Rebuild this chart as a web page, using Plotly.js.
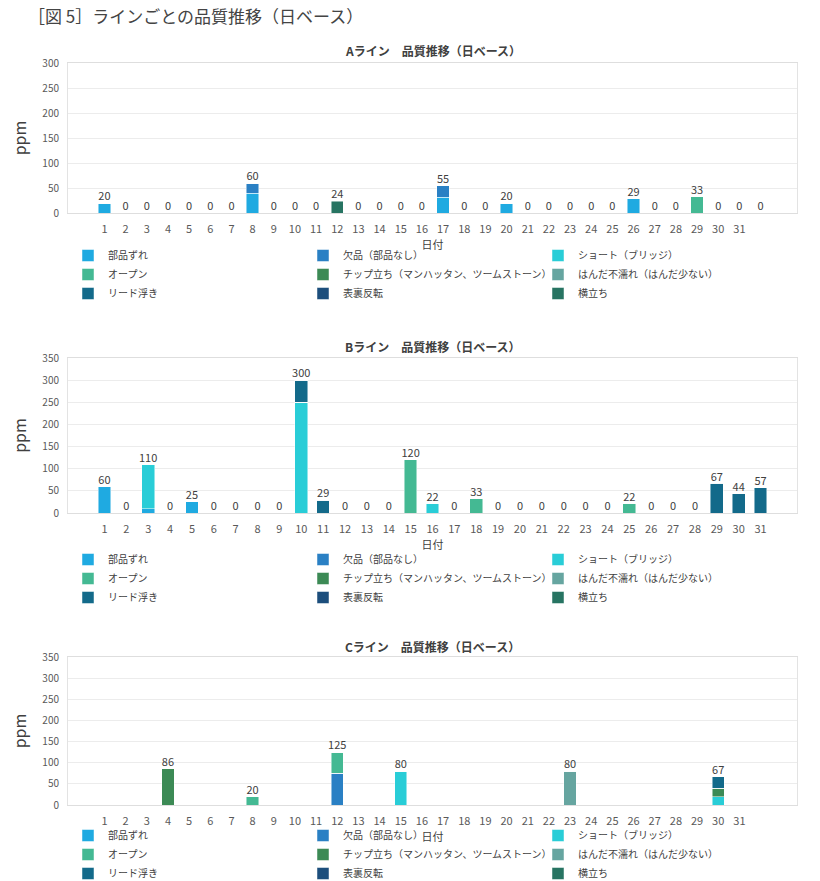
<!DOCTYPE html>
<html>
<head>
<meta charset="utf-8">
<script src="https://cdn.plot.ly/plotly-3.0.1.min.js"></script>
<style>
  html, body { margin: 0; padding: 0; background: #fff; }
  #chart { width: 820px; height: 881px; }
</style>
</head>
<body>
<div id="chart"></div>
<script>
// defect categories, in stacking / legend order
const categories = [
  "部品ずれ",
  "欠品（部品なし）",
  "ショート（ブリッジ）",
  "オープン",
  "チップ立ち（マンハッタン、ツームストーン）",
  "はんだ不濡れ（はんだ少ない）",
  "リード浮き",
  "表裏反転",
  "横立ち",
];
const colors = ["#1faae1", "#2a80c4", "#29cdd7", "#44b993", "#3c8a55", "#66a5a0", "#136a8a", "#1c4e7c", "#277462"];

// A and C have an empty 32nd slot on the axis, B has 31 days
const daysAC = ["1","2","3","4","5","6","7","8","9","10","11","12","13","14","15","16","17","18","19","20","21","22","23","24","25","26","27","28","29","30","31"," "];
const daysB = ["1","2","3","4","5","6","7","8","9","10","11","12","13","14","15","16","17","18","19","20","21","22","23","24","25","26","27","28","29","30","31"];

const zeros32 = [0,0,0,0,0,0,0,0,0,0, 0,0,0,0,0,0,0,0,0,0, 0,0,0,0,0,0,0,0,0,0, 0,0];
const zeros31 = [0,0,0,0,0,0,0,0,0,0, 0,0,0,0,0,0,0,0,0,0, 0,0,0,0,0,0,0,0,0,0, 0];

// A line (ppm)
const aZure  = [20,0,0,0,0,0,0,40,0,0, 0,0,0,0,0,0,32,0,0,20, 0,0,0,0,0,29,0,0,0,0, 0,0];
const aKepin = [0,0,0,0,0,0,0,20,0,0, 0,0,0,0,0,0,23,0,0,0, 0,0,0,0,0,0,0,0,0,0, 0,0];
const aOpen  = [0,0,0,0,0,0,0,0,0,0, 0,0,0,0,0,0,0,0,0,0, 0,0,0,0,0,0,0,0,33,0, 0,0];
const aYoko  = [0,0,0,0,0,0,0,0,0,0, 0,24,0,0,0,0,0,0,0,0, 0,0,0,0,0,0,0,0,0,0, 0,0];

// B line (ppm)
const bZure  = [60,0,10,0,25,0,0,0,0,0, 0,0,0,0,0,0,0,0,0,0, 0,0,0,0,0,0,0,0,0,0, 0];
const bShort = [0,0,100,0,0,0,0,0,0,250, 0,0,0,0,0,22,0,0,0,0, 0,0,0,0,0,0,0,0,0,0, 0];
const bOpen  = [0,0,0,0,0,0,0,0,0,0, 0,0,0,0,120,0,0,33,0,0, 0,0,0,0,22,0,0,0,0,0, 0];
const bLead  = [0,0,0,0,0,0,0,0,0,50, 29,0,0,0,0,0,0,0,0,0, 0,0,0,0,0,0,0,0,67,44, 57];

// C line (ppm)
const cKepin = [0,0,0,0,0,0,0,0,0,0, 0,75,0,0,0,0,0,0,0,0, 0,0,0,0,0,0,0,0,0,0, 0,0];
const cShort = [0,0,0,0,0,0,0,0,0,0, 0,0,0,0,80,0,0,0,0,0, 0,0,0,0,0,0,0,0,0,20, 0,0];
const cOpen  = [0,0,0,0,0,0,0,20,0,0, 0,50,0,0,0,0,0,0,0,0, 0,0,0,0,0,0,0,0,0,0, 0,0];
const cChip  = [0,0,0,86,0,0,0,0,0,0, 0,0,0,0,0,0,0,0,0,0, 0,0,0,0,0,0,0,0,0,20, 0,0];
const cNure  = [0,0,0,0,0,0,0,0,0,0, 0,0,0,0,0,0,0,0,0,0, 0,0,80,0,0,0,0,0,0,0, 0,0];
const cLead  = [0,0,0,0,0,0,0,0,0,0, 0,0,0,0,0,0,0,0,0,0, 0,0,0,0,0,0,0,0,0,27, 0,0];

const FONT = '"Noto Sans CJK JP", "Noto Sans", sans-serif';
const H = 881;
const py = (px) => 1 - px / H; // pixel row -> paper y (no top/bottom margin)

const panels = [
  { title: "Aライン　品質推移（日ベース）", days: daysAC, ymax: 300, showZero: true,
    series: [aZure, aKepin, zeros32, aOpen, zeros32, zeros32, zeros32, zeros32, aYoko],
    titleY: 51, top: 63, bottom: 213, legendTop: 241 },
  { title: "Bライン　品質推移（日ベース）", days: daysB, ymax: 350, showZero: true,
    series: [bZure, zeros31, bShort, bOpen, zeros31, zeros31, bLead, zeros31, zeros31],
    titleY: 346, top: 358, bottom: 513, legendTop: 545 },
  { title: "Cライン　品質推移（日ベース）", days: daysAC, ymax: 350, showZero: false,
    series: [zeros32, cKepin, cShort, cOpen, cChip, cNure, cLead, zeros32, zeros32],
    titleY: 646, top: 657, bottom: 805, legendTop: 821 },
];

const traces = [];
const annotations = [];
const layout = {
  width: 820,
  height: 881,
  margin: { l: 68, r: 23, t: 0, b: 0, autoexpand: false },
  paper_bgcolor: "#fff",
  plot_bgcolor: "#fff",
  font: { family: FONT, color: "#404040" },
  barmode: "stack",
  bargap: 0.42,
  showlegend: true,
  title: {
    text: "［図 5］ラインごとの品質推移（日ベース）",
    x: 28 / 820, xref: "container", xanchor: "left",
    y: py(17), yref: "container", yanchor: "middle",
    font: { size: 17, color: "#444" },
  },
};

panels.forEach((p, i) => {
  const n = i === 0 ? "" : String(i + 1);

  categories.forEach((c, k) => {
    traces.push({
      type: "bar",
      x: p.days,
      y: p.series[k],
      name: c,
      marker: { color: colors[k], line: { color: "rgba(255,255,255,0.6)", width: 0.8 } },
      xaxis: "x" + n,
      yaxis: "y" + n,
      legend: "legend" + n,
      hoverinfo: "skip",
    });
  });

  const totals = p.days.map((d, j) => p.series.reduce((s, arr) => s + arr[j], 0));
  traces.push({
    type: "scatter",
    mode: "text",
    x: p.days,
    y: totals,
    text: totals.map((t) => (t > 0 || p.showZero ? String(t) : "")),
    textposition: "top center",
    textfont: { size: 11, color: "#404040" },
    cliponaxis: false,
    showlegend: false,
    hoverinfo: "skip",
    xaxis: "x" + n,
    yaxis: "y" + n,
  });

  layout["xaxis" + n] = {
    type: "category",
    anchor: "y" + n,
    domain: [0, 1],
    showgrid: false,
    showline: true,
    mirror: true,
    linecolor: "#dedede",
    ticks: "",
    ticklabelstandoff: 6,
    tickfont: { size: 11, color: "#595959" },
    title: { text: "日付", font: { size: 11, color: "#404040" }, standoff: 4 },
    fixedrange: true,
  };
  layout["yaxis" + n] = {
    anchor: "x" + n,
    domain: [py(p.bottom), py(p.top)],
    range: [0, p.ymax],
    dtick: 50,
    gridcolor: "#ececec",
    showline: true,
    mirror: true,
    linecolor: "#e3e3e3",
    zeroline: false,
    ticks: "",
    ticklabelstandoff: 6,
    tickfont: { size: 10, color: "#595959" },
    title: { text: "ppm", font: { size: 16, color: "#404040" } },
    fixedrange: true,
  };
  layout["legend" + n] = {
    orientation: "h",
    traceorder: "normal",
    x: 0,
    xanchor: "left",
    y: py(p.legendTop),
    yanchor: "top",
    entrywidth: 190,
    entrywidthmode: "pixels",
    bgcolor: "rgba(0,0,0,0)",
    font: { size: 10, color: "#404040" },
    itemclick: false,
    itemdoubleclick: false,
  };

  annotations.push({
    text: p.title,
    xref: "paper", x: 0.5, xanchor: "center",
    yref: "paper", y: py(p.titleY), yanchor: "middle",
    showarrow: false,
    font: { size: 12, color: "#404040", weight: "bold" },
  });
});

layout.annotations = annotations;

Plotly.newPlot("chart", traces, layout, { displayModeBar: false, staticPlot: true });
</script>
</body>
</html>
